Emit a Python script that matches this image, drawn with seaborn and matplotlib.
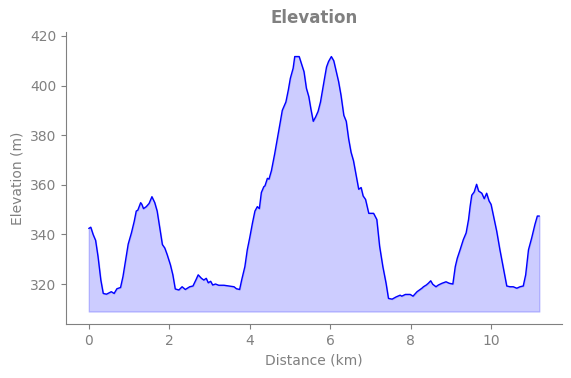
import matplotlib
matplotlib.use("Agg")
import matplotlib.pyplot as plt
import numpy as np
import pandas as pd
import seaborn as sns

# distance along the route (km) and elevation (m)
distance = [0.00, 0.05, 0.11, 0.17, 0.23, 0.30, 0.36, 0.44, 0.56, 0.63, 0.70, 0.79,
            0.85, 0.91, 0.98, 1.06, 1.13, 1.18, 1.22, 1.29, 1.32, 1.36, 1.43, 1.50,
            1.57, 1.64, 1.70, 1.76, 1.83, 1.89, 1.95, 2.03, 2.09, 2.15, 2.24, 2.32,
            2.40, 2.51, 2.59, 2.67, 2.72, 2.80, 2.86, 2.92, 2.97, 3.03, 3.08, 3.15,
            3.23, 3.36, 3.48, 3.61, 3.67, 3.75, 3.80, 3.88, 3.94, 4.00, 4.07, 4.13,
            4.19, 4.24, 4.29, 4.35, 4.38, 4.44, 4.48, 4.54, 4.62, 4.71, 4.76, 4.81,
            4.90, 4.96, 5.01, 5.08, 5.12, 5.23, 5.29, 5.35, 5.41, 5.47, 5.52, 5.58,
            5.64, 5.70, 5.76, 5.81, 5.86, 5.91, 5.96, 6.03, 6.09, 6.16, 6.21, 6.27,
            6.34, 6.40, 6.46, 6.52, 6.58, 6.64, 6.71, 6.77, 6.82, 6.88, 6.96, 7.08,
            7.16, 7.23, 7.31, 7.39, 7.45, 7.54, 7.64, 7.74, 7.78, 7.87, 7.99, 8.06,
            8.16, 8.22, 8.28, 8.32, 8.39, 8.44, 8.50, 8.55, 8.63, 8.69, 8.78, 8.88,
            8.96, 9.05, 9.11, 9.16, 9.23, 9.31, 9.38, 9.44, 9.48, 9.52, 9.58, 9.64,
            9.69, 9.77, 9.83, 9.89, 9.95, 10.00, 10.06, 10.14, 10.22, 10.30, 10.39,
            10.47, 10.55, 10.64, 10.72, 10.80, 10.86, 10.93, 11.01, 11.09, 11.15, 11.20]
elevation = [342.4, 342.9, 339.9, 337.6, 331.1, 321.6, 316.2, 315.9, 316.9, 316.2, 318.1, 318.6,
             323.0, 329.1, 336.1, 340.6, 345.3, 349.4, 349.8, 352.8, 352.1, 350.4, 351.2, 352.5,
             355.2, 352.8, 349.4, 343.3, 335.9, 334.5, 331.8, 327.7, 323.7, 318.0, 317.6, 318.9,
             317.8, 318.9, 319.2, 321.9, 323.7, 322.3, 321.6, 322.3, 320.5, 321.1, 319.6, 320.0,
             319.5, 319.5, 319.2, 318.9, 318.1, 317.8, 321.6, 327.0, 333.8, 338.6, 344.7, 349.4,
             351.2, 350.4, 356.9, 359.2, 359.6, 362.6, 362.3, 365.7, 372.4, 380.6, 385.3, 390.0,
             393.4, 398.2, 402.9, 407.0, 411.7, 411.7, 408.6, 405.6, 398.9, 395.5, 390.7, 385.6,
             387.4, 389.6, 393.4, 398.2, 402.9, 407.5, 409.7, 411.7, 410.0, 405.0, 401.6, 396.1,
             388.0, 385.6, 378.5, 373.1, 369.7, 364.3, 358.2, 358.9, 355.5, 354.1, 348.5, 348.5,
             346.0, 335.2, 327.0, 320.3, 314.2, 313.9, 314.8, 315.5, 315.1, 315.8, 315.8, 315.1,
             316.9, 317.6, 318.3, 318.9, 319.6, 320.3, 321.3, 319.9, 318.9, 319.6, 320.3, 320.9,
             320.3, 320.0, 327.0, 330.4, 333.8, 337.9, 340.6, 346.0, 351.4, 355.8, 357.1, 360.2,
             357.5, 356.6, 354.4, 356.6, 353.5, 352.1, 347.4, 341.3, 333.8, 327.0, 319.2,
             318.9, 318.9, 318.3, 318.9, 319.2, 323.7, 333.8, 338.6, 344.0, 347.4, 347.4]

df = pd.DataFrame({"distance": distance, "elevation": elevation})
base = df["elevation"].min() - 5

sns.set_style("ticks")
fig, ax = plt.subplots(figsize=(5.71, 3.78), dpi=100)
fig.subplots_adjust(left=0.116, right=0.984, top=0.916, bottom=0.143)

ax.fill_between(df["distance"], df["elevation"], base, color="blue", alpha=0.2)
sns.lineplot(data=df, x="distance", y="elevation", color="blue", linewidth=1, ax=ax)

ax.set_ylim(df["elevation"].min() - 10, df["elevation"].max() + 10)
ax.set_xticks([0, 2, 4, 6, 8, 10])
ax.set_yticks([320, 340, 360, 380, 400, 420])

ax.set_title("Elevation", fontsize=12, fontweight="bold", color="gray")
ax.set_xlabel("Distance (km)", fontsize=10, color="gray")
ax.set_ylabel("Elevation (m)", fontsize=10, color="gray")
ax.tick_params(colors="gray", labelsize=10)
for s in ["left", "bottom"]:
    ax.spines[s].set_color("gray")
sns.despine(ax=ax)

fig.savefig("out.png", dpi=100)
